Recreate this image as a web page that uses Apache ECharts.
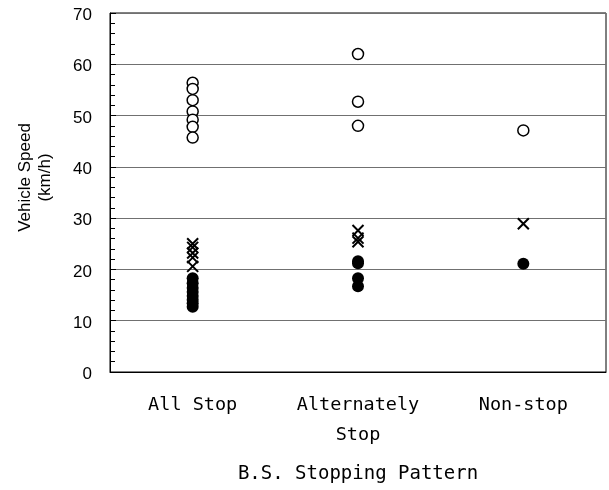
<!DOCTYPE html>
<html>
<head>
<meta charset="utf-8">
<script src="https://cdn.jsdelivr.net/npm/echarts@6/dist/echarts.min.js"></script>
<style>
  html, body { margin: 0; padding: 0; background: #fff; }
  #chart { width: 609px; height: 490px; }
</style>
</head>
<body>
<div id="chart"></div>
<script>
var categories = ["All Stop", "Alternately\nStop", "Non-stop"];
var yTicks = [0, 10, 20, 30, 40, 50, 60, 70];

// open circles
var openAll = [56.4, 55.2, 53, 50.8, 49.2, 47.8, 45.7];
var openAlt = [62, 52.7, 48];
var openNon = [47.1];

// crosses
var crossAll = [25, 24.3, 23.2, 22.3, 20.6];
var crossAlt = [27.6, 26.1, 25.4];
var crossNon = [28.9];

// filled circles
var fillAll = [18.3, 17.3, 16.4, 15.6, 14.8, 14.1, 13.4, 12.7];
var fillAlt = [21.6, 21.2, 18.3, 16.7];
var fillNon = [21.1];

function pairs(lists) {
  var out = [];
  lists.forEach(function(vals, i) {
    vals.forEach(function(v) { out.push([i, v]); });
  });
  return out;
}

var chart = echarts.init(document.getElementById("chart"));
chart.setOption({
  animation: false,
  grid: {
    left: 110, right: 3, top: 13, bottom: 118,
    outerBoundsMode: "none",
    show: true, borderColor: "#000", borderWidth: 1
  },
  xAxis: {
    type: "category",
    data: categories,
    boundaryGap: true,
    name: "B.S. Stopping Pattern",
    nameLocation: "middle",
    nameGap: 93,
    nameTextStyle: { fontFamily: "DejaVu Sans Mono", fontSize: 19, color: "#000" },
    axisLine: { lineStyle: { color: "#000", width: 1 } },
    axisTick: { inside: true, length: 5, lineStyle: { color: "#000" } },
    axisLabel: {
      margin: 18,
      fontFamily: "DejaVu Sans Mono", fontSize: 18.5, color: "#000",
      lineHeight: 30
    },
    splitLine: { show: false }
  },
  yAxis: {
    type: "value",
    min: yTicks[0],
    max: yTicks[yTicks.length - 1],
    interval: 10,
    name: "Vehicle Speed\n(km/h)",
    nameLocation: "middle",
    nameGap: 55,
    nameRotate: 90,
    nameTextStyle: {
      fontFamily: "Liberation Sans", fontSize: 17, color: "#000",
      lineHeight: 20, padding: [0, 0, 0, 30]
    },
    axisLine: { show: true, lineStyle: { color: "#000", width: 1 } },
    axisTick: { show: true, inside: true, length: 6, lineStyle: { color: "#000" } },
    minorTick: { show: true, splitNumber: 5, length: 5, lineStyle: { color: "#000" } },
    axisLabel: {
      margin: 18,
      formatter: function(v) { return "{t|" + v + "}"; },
      rich: {
        t: { fontFamily: "Liberation Sans", fontSize: 17, color: "#000", padding: [5, 0, 0, 0] }
      }
    },
    splitLine: { show: true, lineStyle: { color: "#707070", width: 1 } }
  },
  series: [
    {
      type: "scatter",
      data: pairs([openAll, openAlt, openNon]),
      symbol: "circle",
      symbolSize: 11,
      itemStyle: { color: "#fff", borderColor: "#000", borderWidth: 1.5, opacity: 1 }
    },
    {
      type: "scatter",
      data: pairs([crossAll, crossAlt, crossNon]),
      symbol: "path://M0,0L10,10M10,0L0,10",
      symbolSize: 11,
      itemStyle: { color: "none", borderColor: "#000", borderWidth: 2, opacity: 1 }
    },
    {
      type: "scatter",
      data: pairs([fillAll, fillAlt, fillNon]),
      symbol: "circle",
      symbolSize: 12,
      itemStyle: { color: "#000", opacity: 1 }
    }
  ]
});
</script>
</body>
</html>
